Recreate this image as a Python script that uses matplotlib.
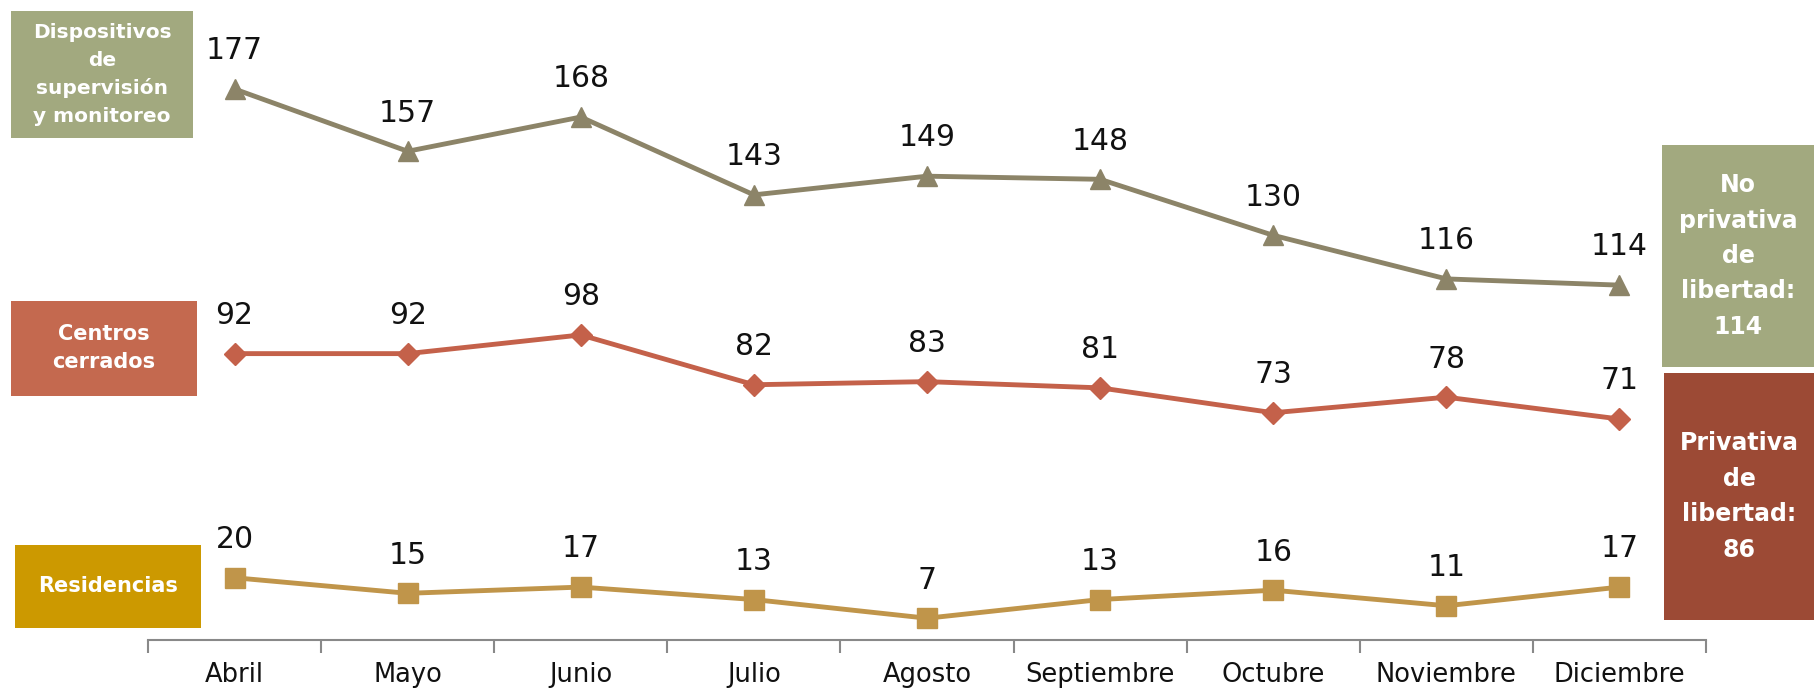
import matplotlib
matplotlib.use("Agg")
import matplotlib.pyplot as plt
import numpy as np

months = ["Abril", "Mayo", "Junio", "Julio", "Agosto", "Septiembre", "Octubre", "Noviembre", "Diciembre"]
dispositivos = [177, 157, 168, 143, 149, 148, 130, 116, 114]
centros = [92, 92, 98, 82, 83, 81, 73, 78, 71]
residencias = [20, 15, 17, 13, 7, 13, 16, 11, 17]

plt.rcParams['font.family'] = ['DejaVu Sans']
W, H = 1814, 688
fig = plt.figure(figsize=(W / 100, H / 100), dpi=100)
ax = fig.add_axes([148 / W, 48 / H, (1706 - 148) / W, 640 / H])

x = np.arange(len(months))
series = [
    (dispositivos, "#8C8468", "^", 15),
    (centros, "#C4614A", "D", 11),
    (residencias, "#C0954A", "s", 14),
]
for vals, col, mk, ms in series:
    ax.plot(x, vals, color=col, lw=3.5, marker=mk, markersize=ms, markeredgecolor=col,
            markerfacecolor=col, zorder=3)
    for xi, v in zip(x, vals):
        ax.annotate(str(v), (xi, v), xytext=(0, 27.5), textcoords="offset points",
                    ha="center", va="center", fontsize=21.5, color="#111111")

ax.set_xlim(-0.5, len(months) - 0.5)
ax.set_ylim(0, 205.6)
ax.set_yticks([])
for s in ["top", "right", "left"]:
    ax.spines[s].set_visible(False)
ax.spines["bottom"].set_color("#898989")
ax.spines["bottom"].set_linewidth(1.5)
ax.set_xticks(x)
ax.set_xticklabels(months, fontsize=18.5, color="#111111")
ax.tick_params(axis="x", which="major", length=0, pad=16)
ax.set_xticks(np.arange(-0.5, len(months), 1.0), minor=True)
ax.tick_params(axis="x", which="minor", length=9, width=1.5, color="#898989")
ax.patch.set_alpha(0)

def box(x0, y0, x1, y1, color, text, fs=14, ls=1.5):
    fx0, fx1 = x0 / W, x1 / W
    fy0, fy1 = 1 - y1 / H, 1 - y0 / H
    fig.patches.append(matplotlib.patches.Rectangle((fx0, fy0), fx1 - fx0, fy1 - fy0,
                       transform=fig.transFigure, facecolor=color, edgecolor="none", zorder=0))
    fig.text((fx0 + fx1) / 2, (fy0 + fy1) / 2, text, ha="center", va="center",
             color="white", fontsize=fs, fontweight="bold", linespacing=ls)

box(11, 11, 193, 138, "#A2A97F", "Dispositivos\nde\nsupervisión\ny monitoreo", fs=14.5, ls=1.55)
box(11, 301, 197, 396, "#C4694F", "Centros\ncerrados", fs=15, ls=1.5)
box(15, 545, 201, 628, "#CC9900", "Residencias", fs=15)
box(1662, 145, 1814, 367, "#A2A97F", "No\nprivativa\nde\nlibertad:\n114", fs=17, ls=1.6)
box(1664, 373, 1814, 620, "#9C4A35", "Privativa\nde\nlibertad:\n86", fs=17, ls=1.6)

fig.savefig("out.png", dpi=100)
